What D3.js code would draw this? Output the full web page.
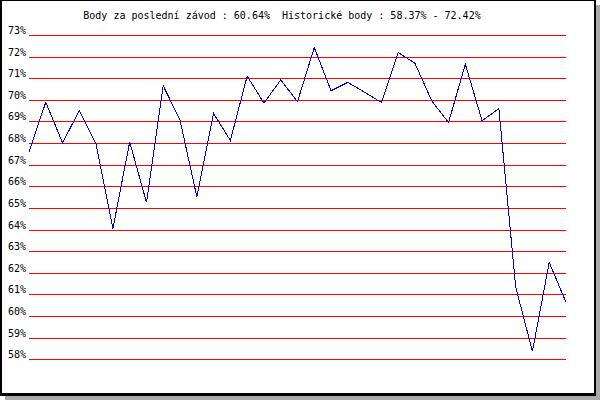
<!DOCTYPE html>
<html>
<head>
<meta charset="utf-8">
<script src="https://cdn.jsdelivr.net/npm/d3@7"></script>
<style>
  html, body { margin: 0; padding: 0; background: #fff; }
  svg { display: block; }
  text { font-family: "DejaVu Sans Mono", "Liberation Mono", monospace; font-size: 10px; fill: #000; white-space: pre; }
</style>
</head>
<body>
<svg id="chart" width="600" height="400"></svg>
<script>
const titleText = "Body za poslední závod : 60.64%  Historické body : 58.37% - 72.42%";
const races = d3.range(1, 34);
const points = [67.60, 69.89, 68.01, 69.51, 67.95, 64.05, 68.05, 65.26, 70.65, 69.06,
                65.52, 69.37, 68.12, 71.10, 69.85, 70.92, 69.92, 72.42, 70.42, 70.81,
                70.35, 69.88, 72.19, 71.69, 69.95, 68.95, 71.65, 69.03, 69.60, 61.35,
                58.37, 62.48, 60.64];
const yTicks = [58, 59, 60, 61, 62, 63, 64, 65, 66, 67, 68, 69, 70, 71, 72, 73];

const svg = d3.select("#chart");

// frame with shadow
svg.append("rect").attr("x", 5).attr("y", 5).attr("width", 595).attr("height", 395).attr("fill", "#aaaaaa");
svg.append("rect").attr("x", 0).attr("y", 0).attr("width", 596).attr("height", 396).attr("fill", "#000");
svg.append("rect").attr("x", 2).attr("y", 1).attr("width", 592).attr("height", 392).attr("fill", "#fff");

const left = 29, right = 566;
const x = d3.scaleLinear().domain([1, 33]).range([left, right]);
const y = d3.scaleLinear().domain([58, 73]).range([359.3, 35]);

const yAxis = d3.axisLeft(y)
  .tickValues(yTicks)
  .tickSize(-(right - left))
  .tickPadding(3)
  .tickFormat(d => d + "%");

const gy = svg.append("g")
  .attr("transform", `translate(${left},0)`)
  .call(yAxis);
gy.select(".domain").remove();
gy.selectAll(".tick").attr("transform", d => `translate(0,${Math.round(y(d)) + 0.5})`);
gy.selectAll(".tick line").attr("stroke", "#ff0000").attr("stroke-width", 1).attr("shape-rendering", "crispEdges");
gy.selectAll(".tick text")
  .attr("dy", null)
  .attr("y", -2)
  .attr("fill", "#000")
  .style("font-family", "'DejaVu Sans Mono', monospace")
  .style("font-size", "10px");

// data line
const line = d3.line()
  .x((d, i) => x(races[i]))
  .y(d => y(d));

svg.append("path")
  .datum(points)
  .attr("d", line)
  .attr("fill", "none")
  .attr("stroke", "#0000cc")
  .attr("stroke-width", 1)
  .attr("shape-rendering", "crispEdges");

// title
svg.append("text")
  .attr("x", 282)
  .attr("y", 19)
  .attr("text-anchor", "middle")
  .attr("xml:space", "preserve")
  .style("white-space", "pre")
  .text(titleText);
</script>
</body>
</html>
